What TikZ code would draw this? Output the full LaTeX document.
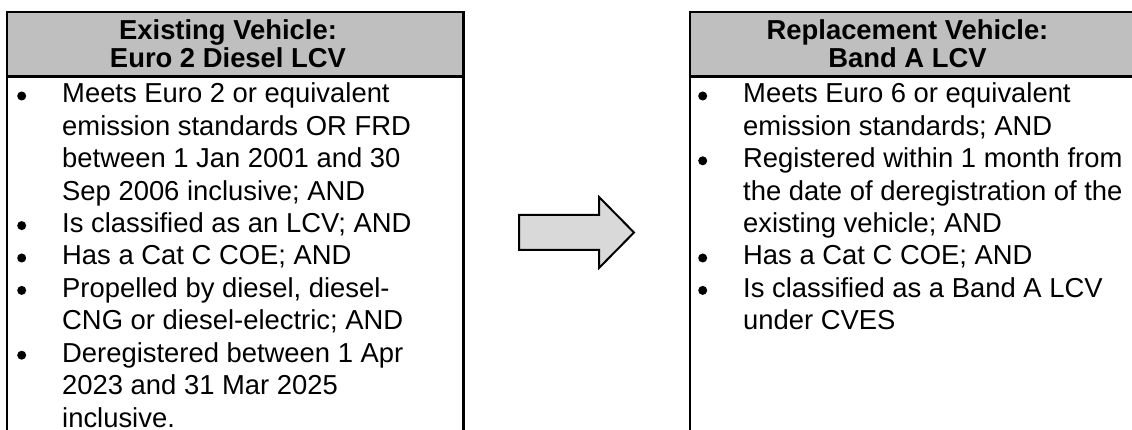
\documentclass[tikz,border=0pt]{standalone}
\usepackage{fontspec}
\setmainfont{Liberation Sans}
\definecolor{headgray}{HTML}{BFBFBF}
\definecolor{arrowgray}{HTML}{D9D9D9}
\begin{document}
\begin{tikzpicture}[x=1pt,y=-1pt,
  boxline/.style={line width=2.2pt, line join=miter},
  headtext/.style={anchor=base, inner sep=0pt, font=\fontsize{27.4}{26.5}\selectfont\bfseries},
  bodytext/.style={anchor=base west, inner sep=0pt, font=\fontsize{27.4}{32.4}\selectfont},
  bulletdot/.style={circle, fill=black, inner sep=0pt, minimum size=9pt}]
\useasboundingbox (0,0) rectangle (1132,430);
\clip (0,0) rectangle (1132,430);
% boxes
\fill[headgray] (7.3,11.7) rectangle (463.5,76.5);
\fill[headgray] (690,11.7) rectangle (1150,76.5);
\draw[boxline] (7.3,440) -- (7.3,11.7) -- (463.5,11.7) -- (463.5,440);
\draw[boxline] (7.3,76.5) -- (463.5,76.5);
\draw[boxline] (690,440) -- (690,11.7) -- (1150,11.7);
\draw[boxline] (690,76.5) -- (1150,76.5);
% headers
\node[headtext] (lhead) at (228,40) {\begin{tabular}[t]{@{}c@{}}Existing Vehicle:\\Euro 2 Diesel LCV\end{tabular}};
\node[headtext] (rhead) at (907.5,40) {\begin{tabular}[t]{@{}c@{}}Replacement Vehicle:\\Band A LCV\end{tabular}};
% left items
\node[bulletdot] (lb1) at (21.7,96) {};
\node[bodytext] (lt1) at (62,103) {\begin{tabular}[t]{@{}l@{}}Meets Euro 2 or equivalent\\emission standards OR FRD\\between 1 Jan 2001 and 30\\Sep 2006 inclusive; AND\end{tabular}};
\node[bulletdot] (lb2) at (21.7,225.6) {};
\node[bodytext] (lt2) at (62,232.6) {Is classified as an LCV; AND};
\node[bulletdot] (lb3) at (21.7,258) {};
\node[bodytext] (lt3) at (62,265) {Has a Cat C COE; AND};
\node[bulletdot] (lb4) at (21.7,290.4) {};
\node[bodytext] (lt4) at (62,297.4) {\begin{tabular}[t]{@{}l@{}}Propelled by diesel, diesel-\\CNG or diesel-electric; AND\end{tabular}};
\node[bulletdot] (lb5) at (21.7,355.2) {};
\node[bodytext] (lt5) at (62,362.2) {\begin{tabular}[t]{@{}l@{}}Deregistered between 1 Apr\\2023 and 31 Mar 2025\\inclusive.\end{tabular}};
% right items
\node[bulletdot] (rb1) at (702.7,96) {};
\node[bodytext] (rt1) at (743,103) {\begin{tabular}[t]{@{}l@{}}Meets Euro 6 or equivalent\\emission standards; AND\end{tabular}};
\node[bulletdot] (rb2) at (702.7,160.8) {};
\node[bodytext] (rt2) at (743,167.8) {\begin{tabular}[t]{@{}l@{}}Registered within 1 month from\\the date of deregistration of the\\existing vehicle; AND\end{tabular}};
\node[bulletdot] (rb3) at (702.7,258) {};
\node[bodytext] (rt3) at (743,265) {Has a Cat C COE; AND};
\node[bulletdot] (rb4) at (702.7,290.4) {};
\node[bodytext] (rt4) at (743,297.4) {\begin{tabular}[t]{@{}l@{}}Is classified as a Band A LCV\\under CVES\end{tabular}};
% arrow
\draw[line width=2pt, line join=miter, fill=arrowgray] (519,215) -- (599,215) -- (599,197) -- (634,232.5) -- (599,268) -- (599,250) -- (519,250) -- cycle;
\end{tikzpicture}
\end{document}
